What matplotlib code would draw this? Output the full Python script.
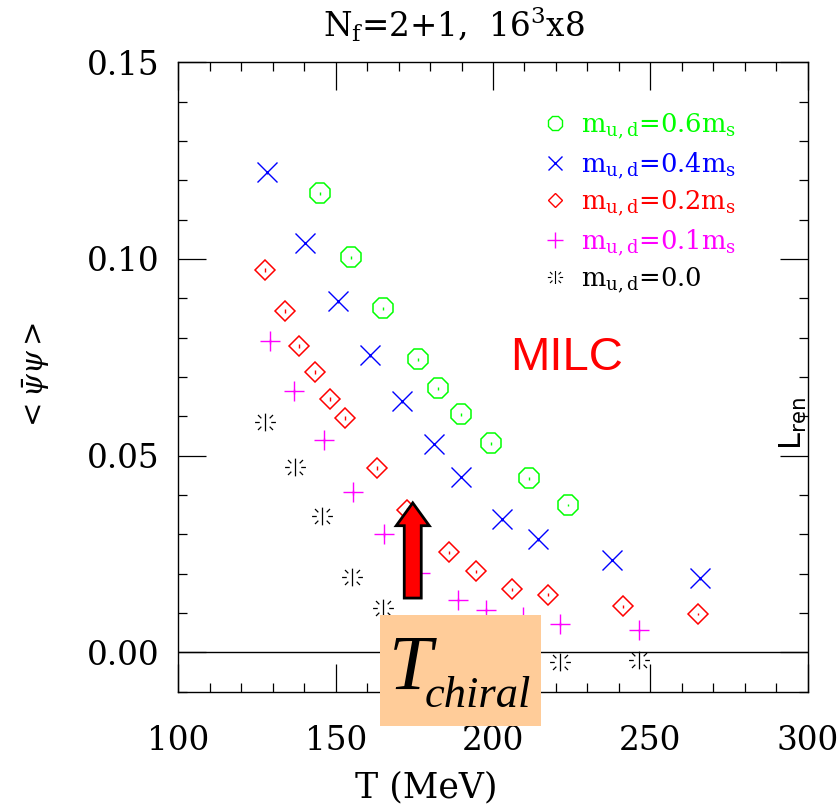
import matplotlib
matplotlib.use("Agg")
import matplotlib.pyplot as plt
from matplotlib.path import Path
from matplotlib.patches import Rectangle, FancyArrow
from matplotlib.ticker import MultipleLocator, FormatStrFormatter

# Chiral condensate vs temperature, N_f=2+1 on 16^3x8 lattices
T_06 = [145.1, 154.9, 165.1, 176.2, 182.5, 189.8, 199.4, 211.4, 223.8]
pbp_06 = [0.1167, 0.1004, 0.0875, 0.0745, 0.0671, 0.0605, 0.0531, 0.0442, 0.0374]
err_06 = [0.0004, 0.0004, 0.0004, 0.0004, 0.0004, 0.0004, 0.0004, 0.0004, 0.0003]

T_04 = [128.3, 140.3, 150.8, 161.0, 171.1, 181.3, 189.8, 202.9, 214.3, 237.8, 265.7]
pbp_04 = [0.1220, 0.1040, 0.0892, 0.0755, 0.0638, 0.0529, 0.0445, 0.0338, 0.0287, 0.0234, 0.0188]
err_04 = [0.0003, 0.0003, 0.0003, 0.0003, 0.0003, 0.0003, 0.0003, 0.0003, 0.0003, 0.0003, 0.0003]

T_02 = [127.6, 134.0, 138.4, 143.5, 148.3, 153.0, 163.2, 172.7, 186.0, 194.6, 206.0, 217.5, 241.3, 265.1]
pbp_02 = [0.0971, 0.0867, 0.0778, 0.0712, 0.0643, 0.0595, 0.0468, 0.0361, 0.0254, 0.0206,
          0.0160, 0.0147, 0.0117, 0.0097]
err_02 = [0.0005, 0.0005, 0.0005, 0.0005, 0.0005, 0.0005, 0.0005, 0.0005, 0.0004, 0.0004,
          0.0003, 0.0003, 0.0003, 0.0002]

T_01 = [129.2, 136.8, 146.3, 155.6, 165.4, 176.8, 188.9, 197.8, 209.5, 221.3, 246.3]
pbp_01 = [0.0791, 0.0664, 0.0539, 0.0407, 0.0300, 0.0201, 0.0132, 0.0107, 0.0090, 0.0071, 0.0056]
err_01 = [0.0006, 0.0006, 0.0006, 0.0006, 0.0006, 0.0006, 0.0005, 0.0005, 0.0005, 0.0005, 0.0004]

T_00 = [127.6, 137.1, 145.7, 155.2, 165.1, 221.3, 246.3]
pbp_00 = [0.0585, 0.0470, 0.0346, 0.0191, 0.0114, -0.0025, -0.0020]

labels = [r"m$_{\rm u,d}$=0.6m$_{\rm s}$", r"m$_{\rm u,d}$=0.4m$_{\rm s}$",
          r"m$_{\rm u,d}$=0.2m$_{\rm s}$", r"m$_{\rm u,d}$=0.1m$_{\rm s}$",
          r"m$_{\rm u,d}$=0.0"]
colors = ["#00ff00", "#0000ff", "#ff0000", "#ff00ff", "#000000"]

xticks = [100, 150, 200, 250, 300]
yticks = [0.00, 0.05, 0.10, 0.15]

# burst-like asterisk symbol: broken arms plus a full vertical stroke
_r0, _r1 = 0.55, 1.0
_d0, _d1 = 0.40, 0.72
_verts = [(-_r1, 0), (-_r0, 0), (_r0, 0), (_r1, 0),
          (-_d1, -_d1), (-_d0, -_d0), (_d0, _d0), (_d1, _d1),
          (-_d1, _d1), (-_d0, _d0), (_d0, -_d0), (_d1, -_d1),
          (0, -0.85), (0, 0.85)]
_codes = [Path.MOVETO, Path.LINETO] * 7
burst = Path(_verts, _codes)

SERIF = "DejaVu Serif"

fig = plt.figure(figsize=(8.4, 8.05), dpi=100)
W, H = 840.0, 805.0
ax = fig.add_axes([178.3 / W, 1 - 691.7 / H, 629.4 / W, 629.4 / H])

ax.set_xlim(100, 300)
ax.set_ylim(-0.01, 0.15)

ax.axhline(0.0, color="black", lw=1.0, zorder=1)

mk = dict(ls="none", mfc="none", elinewidth=1.0, capsize=0, zorder=3)
ax.errorbar(T_06, pbp_06, yerr=err_06, marker="8", ms=16, mew=1.1, color=colors[0], **mk)
ax.errorbar(T_04, pbp_04, yerr=err_04, marker="x", ms=14, mew=1.0, color=colors[1], **mk)
ax.errorbar(T_02, pbp_02, yerr=err_02, marker="D", ms=10, mew=1.1, color=colors[2], **mk)
ax.errorbar(T_01, pbp_01, yerr=err_01, marker="+", ms=14, mew=1.0, color=colors[3], **mk)
ax.plot(T_00, pbp_00, ls="none", marker=burst, ms=15, mew=0.9, color=colors[4], zorder=3)

# legend drawn as symbol + coloured label rows
leg_markers = [("8", 11, 1.0), ("x", 10, 1.0), ("D", 7.5, 1.0), ("+", 11, 1.0), (burst, 11, 0.8)]
leg_y_px = [123, 163, 200, 240, 277]
for (m, s, w), c, lab, ypx in zip(leg_markers, colors, labels, leg_y_px):
    yf = (691.7 - ypx) / 629.4
    ax.plot([(555 - 178.3) / 629.4], [yf], transform=ax.transAxes, marker=m, ms=s,
            mew=w, mfc="none", color=c, ls="none", clip_on=False, zorder=4)
    ax.text((581 - 178.3) / 629.4, (691.7 - ypx - 9) / 629.4, lab, transform=ax.transAxes,
            color=c, fontsize=18.5, family=SERIF, math_fontfamily="dejavuserif",
            ha="left", va="baseline", zorder=4)

ax.text((567 - 178.3) / 629.4, (691.7 - 358) / 629.4, "MILC", transform=ax.transAxes,
        color="#ff0000", fontsize=34, family="Liberation Sans", ha="center", va="center")

# arrow pointing up towards T_chiral
ax.add_patch(FancyArrow(174.5, 0.0138, 0, 0.0380 - 0.0138, width=5.4, head_width=10.5,
                        head_length=0.0058, length_includes_head=True,
                        facecolor="#ff0000", edgecolor="black", lw=2.0, zorder=6))

# axes styling
for sp in ax.spines.values():
    sp.set_linewidth(1.0)
ax.xaxis.set_major_locator(MultipleLocator(50))
ax.xaxis.set_minor_locator(MultipleLocator(10))
ax.yaxis.set_major_locator(MultipleLocator(0.05))
ax.yaxis.set_minor_locator(MultipleLocator(0.01))
ax.set_xticks(xticks)
ax.set_yticks(yticks)
ax.yaxis.set_major_formatter(FormatStrFormatter("%.2f"))
ax.tick_params(which="both", direction="in", top=True, right=True, color="black")
ax.tick_params(which="major", length=20, width=0.9)
ax.tick_params(which="minor", length=6.7, width=0.9)
ax.tick_params(axis="x", which="major", pad=24, labelsize=23.5)
ax.tick_params(axis="y", which="major", pad=13.5, labelsize=23.5)
for lab in ax.get_xticklabels() + ax.get_yticklabels():
    lab.set_family(SERIF)

ax.text(-0.226, 0.5, r"$<\bar{\psi}\psi>$", transform=ax.transAxes, rotation=90,
        ha="center", va="center", fontsize=21, math_fontfamily="dejavuserif")

fig.text(426 / W, 1 - 797 / H, "T (MeV)", ha="center", va="baseline",
         fontsize=25, family=SERIF)

fig.text(454 / W, 1 - 37 / H, r"N$_{\rm f}$=2+1,  16$^{3}$x8", ha="center", va="baseline",
         fontsize=23.5, family=SERIF, math_fontfamily="dejavuserif")

fig.text(802 / W, 1 - 450 / H, r"L$_{\rm ren}$", ha="left", va="baseline", rotation=90,
         rotation_mode="anchor", fontsize=22, family="DejaVu Sans",
         math_fontfamily="dejavusans")

# highlighted T_chiral box
fig.add_artist(Rectangle((380 / W, 1 - 726 / H), 161 / W, 111 / H, transform=fig.transFigure,
                         facecolor="#ffcc99", edgecolor="none", zorder=10))
fig.text(389 / W, 1 - 689 / H, "T", ha="left", va="baseline", fontsize=56,
         family="Liberation Serif", style="italic", zorder=11)
fig.text(425 / W, 1 - 707 / H, "chiral", ha="left", va="baseline", fontsize=32,
         family="Liberation Serif", style="italic", zorder=11)

fig.savefig("out.png", dpi=100)
